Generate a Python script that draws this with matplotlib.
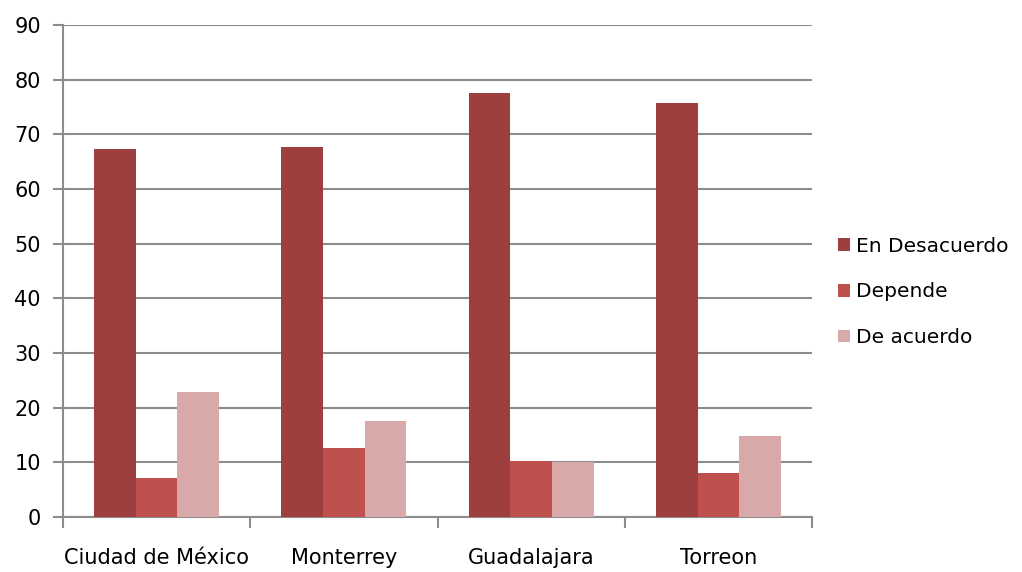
import numpy as np
import matplotlib
matplotlib.use("Agg")
import matplotlib.pyplot as plt

ciudades = ["Ciudad de México", "Monterrey", "Guadalajara", "Torreon"]
series = ["En Desacuerdo", "Depende", "De acuerdo"]
en_desacuerdo = [67.3, 67.7, 77.6, 75.8]
depende = [7.2, 12.6, 10.2, 8.0]
de_acuerdo = [22.8, 17.5, 10.0, 14.8]
colores = ["#9c3f3e", "#c0504d", "#d9a9a9"]

fig = plt.figure(figsize=(10.22, 5.72), dpi=100)
ax = fig.add_axes([63/1022, 1-517/572, 749/1022, 492/572])

x = np.arange(len(ciudades))
w = 1/4.5
for i, (vals, lab) in enumerate(zip([en_desacuerdo, depende, de_acuerdo], series)):
    ax.bar(x + (i-1)*w, vals, width=w, color=colores[i], label=lab, zorder=3)

ax.set_xlim(-0.5, len(ciudades)-0.5)
ax.set_ylim(0, 90)
ax.set_yticks(range(0, 91, 10))
ax.yaxis.grid(True, color="#8c8c8c", linewidth=1.5, zorder=0)

ax.set_xticks(x)
ax.set_xticklabels(ciudades)
ax.set_xticks(np.arange(-0.5, len(ciudades), 1), minor=True)
ax.tick_params(axis="x", which="major", length=0, pad=22, labelsize=15)
ax.tick_params(axis="x", which="minor", length=8, width=1.5, color="#8c8c8c")
ax.tick_params(axis="y", length=7, width=1.5, color="#8c8c8c", pad=9, labelsize=15)

for s in ["top", "right"]:
    ax.spines[s].set_visible(False)
for s in ["left", "bottom"]:
    ax.spines[s].set_color("#8c8c8c")
    ax.spines[s].set_linewidth(1.5)

fig.legend(loc="center left", bbox_to_anchor=(830/1022, 1-292/572), frameon=False,
           fontsize=14.5, handlelength=0.6, handleheight=0.6, handletextpad=0.3,
           labelspacing=1.32, borderaxespad=0)

fig.savefig("out.png", dpi=100)
